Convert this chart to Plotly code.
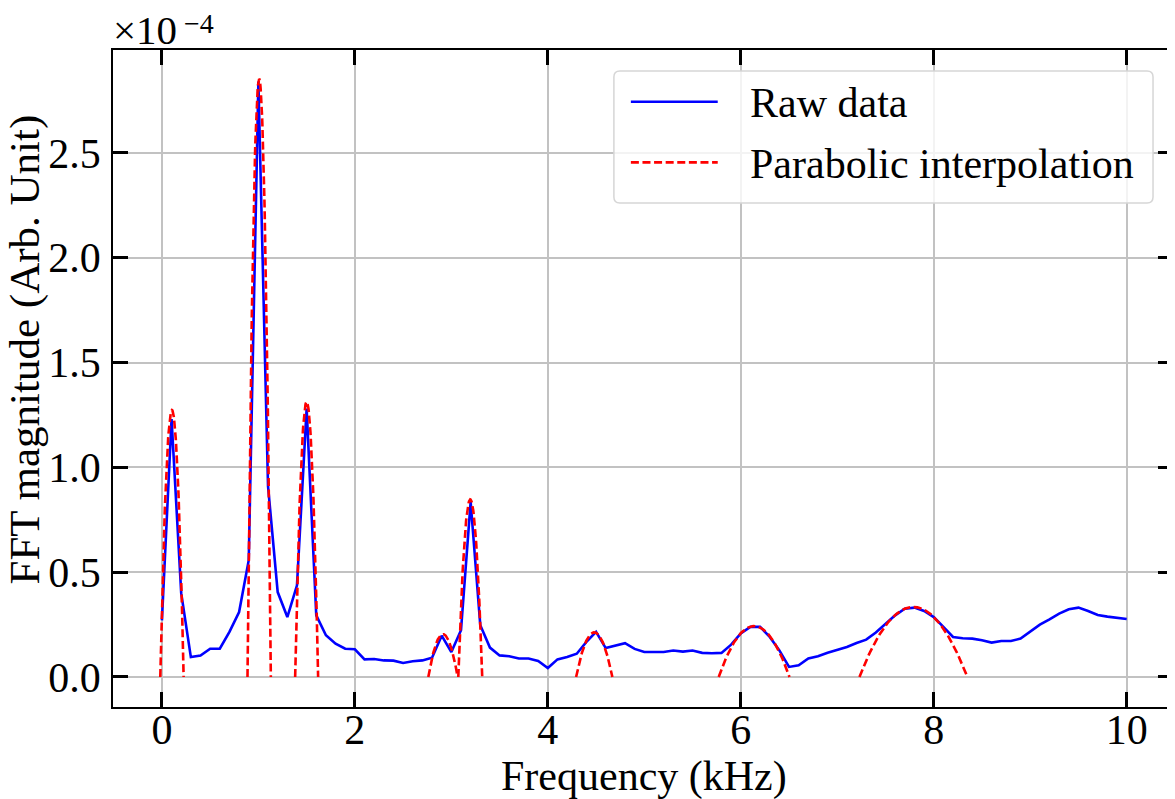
import plotly.graph_objects as go

# ---------------- data ----------------
FREQ_KHZ = [0.0, 0.1, 0.2, 0.3, 0.4, 0.5, 0.6, 0.7, 0.8, 0.9,
            1.0, 1.1, 1.2, 1.3, 1.4, 1.5, 1.6, 1.7, 1.8, 1.9,
            2.0, 2.1, 2.2, 2.3, 2.4, 2.5, 2.6, 2.7, 2.8, 2.9,
            3.0, 3.1, 3.2, 3.3, 3.4, 3.5, 3.6, 3.7, 3.8, 3.9,
            4.0, 4.1, 4.2, 4.3, 4.4, 4.5, 4.6, 4.7, 4.8, 4.9,
            5.0, 5.1, 5.2, 5.3, 5.4, 5.5, 5.6, 5.7, 5.8, 5.9,
            6.0, 6.1, 6.2, 6.3, 6.4, 6.5, 6.6, 6.7, 6.8, 6.9,
            7.0, 7.1, 7.2, 7.3, 7.4, 7.5, 7.6, 7.7, 7.8, 7.9,
            8.0, 8.1, 8.2, 8.3, 8.4, 8.5, 8.6, 8.7, 8.8, 8.9,
            9.0, 9.1, 9.2, 9.3, 9.4, 9.5, 9.6, 9.7, 9.8, 9.9,
            10.0]

# FFT magnitude in units of 1e-4
RAW_MAG_E4 = [0.270, 1.230, 0.400, 0.095, 0.102, 0.135, 0.135, 0.215, 0.310, 0.557,
              2.840, 0.910, 0.405, 0.286, 0.437, 1.280, 0.294, 0.199, 0.159, 0.135,
              0.132, 0.084, 0.086, 0.079, 0.078, 0.067, 0.075, 0.079, 0.092, 0.197,
              0.119, 0.223, 0.835, 0.247, 0.140, 0.103, 0.099, 0.088, 0.088, 0.076,
              0.043, 0.084, 0.095, 0.111, 0.167, 0.215, 0.138, 0.150, 0.161, 0.134,
              0.119, 0.119, 0.119, 0.126, 0.121, 0.126, 0.115, 0.113, 0.115, 0.154,
              0.208, 0.239, 0.239, 0.191, 0.127, 0.048, 0.056, 0.088, 0.099, 0.116,
              0.131, 0.143, 0.162, 0.178, 0.212, 0.255, 0.294, 0.326, 0.331, 0.315,
              0.286, 0.239, 0.191, 0.185, 0.183, 0.175, 0.164, 0.172, 0.172, 0.183,
              0.215, 0.250, 0.275, 0.302, 0.323, 0.331, 0.315, 0.296, 0.288, 0.283,
              0.277]

# parabolic fits: vertex position, vertex height (1e-4), half-width to the zero crossings
PARA_CENTER_KHZ = [0.104, 1.008, 1.500, 2.913, 3.196, 4.481, 6.138, 7.789]
PARA_PEAK_E4 = [1.273, 2.853, 1.313, 0.204, 0.847, 0.213, 0.243, 0.334]
PARA_HALFWIDTH_KHZ = [0.121, 0.121, 0.119, 0.152, 0.124, 0.188, 0.367, 0.559]

X_TICKS = [0, 2, 4, 6, 8, 10]
X_TICK_TEXT = ["0", "2", "4", "6", "8", "10"]
Y_TICKS = [0.0, 0.5, 1.0, 1.5, 2.0, 2.5]
Y_TICK_TEXT = ["0.0", "0.5", "1.0", "1.5", "2.0", "2.5"]

LEGEND_LABELS = ["Raw data", "Parabolic interpolation"]
X_TITLE = "Frequency (kHz)"
Y_TITLE = "FFT magnitude (Arb. Unit)"
OFFSET_BASE, OFFSET_EXP = "×10", "−4"

# ---------------- layout constants (page pixels; page body has an 8px margin) ----------------
OFF = 8
PAGE_W, PAGE_H = 1175, 799
W, H = PAGE_W - OFF, PAGE_H - OFF
PLOT_LEFT, PLOT_TOP, PLOT_BOTTOM, PLOT_RIGHT = 113.3, 50, 706.7, 1175
L, T = PLOT_LEFT - OFF, PLOT_TOP - OFF
R, B = PAGE_W - PLOT_RIGHT, PAGE_H - PLOT_BOTTOM
PW, PH = W - L - R, H - T - B
FONT = "Liberation Serif"


def px(xp):  # page x pixel -> paper fraction
    return (xp - OFF - L) / PW


def py(yp):  # page y pixel -> paper fraction
    return (H - B - (yp - OFF)) / PH


# parabola curve built from the read vertex / zero-crossing parameters
para_x, para_y = [], []
N = 80
for c, h, w in zip(PARA_CENTER_KHZ, PARA_PEAK_E4, PARA_HALFWIDTH_KHZ):
    for i in range(N + 1):
        x = c - w + 2 * w * i / N
        para_x.append(x)
        para_y.append(h * (1 - ((x - c) / w) ** 2))
    para_x.append(None)
    para_y.append(None)

fig = go.Figure()
fig.add_trace(go.Scatter(x=FREQ_KHZ, y=RAW_MAG_E4, mode="lines",
                         line=dict(color="#0000ff", width=2.6),
                         name=LEGEND_LABELS[0], showlegend=False))
fig.add_trace(go.Scatter(x=para_x, y=para_y, mode="lines",
                         line=dict(color="#ff0000", width=2.6, dash="8px,3.6px"),
                         name=LEGEND_LABELS[1], showlegend=False))

axis_common = dict(
    showline=True, linecolor="black", linewidth=1.6, mirror="ticks",
    ticks="inside", ticklen=15, tickwidth=3, tickcolor="black",
    showgrid=True, gridcolor="#c2c2c2", gridwidth=1.5,
    zeroline=False,
    tickfont=dict(family=FONT, size=42, color="black"),
)

fig.update_xaxes(range=[-0.507, 10.48], tickmode="array", tickvals=X_TICKS,
                 ticktext=X_TICK_TEXT, ticklabelstandoff=-15, **axis_common)
fig.update_yaxes(range=[-0.1432, 2.991], tickmode="array", tickvals=Y_TICKS,
                 ticktext=Y_TICK_TEXT, ticklabelstandoff=2, **axis_common)

# legend (matplotlib-style rounded frame)
lx0, lx1, ly0, ly1 = 615, 1155, 71, 203
rad = 6
X0, X1, Y0, Y1 = px(lx0), px(lx1), py(ly0), py(ly1)
rx, ry = rad / PW, rad / PH
path = (f"M {X0+rx},{Y0} L {X1-rx},{Y0} Q {X1},{Y0} {X1},{Y0-ry} "
        f"L {X1},{Y1+ry} Q {X1},{Y1} {X1-rx},{Y1} L {X0+rx},{Y1} "
        f"Q {X0},{Y1} {X0},{Y1+ry} L {X0},{Y0-ry} Q {X0},{Y0} {X0+rx},{Y0} Z")
shapes = [
    dict(type="path", path=path, xref="paper", yref="paper", layer="above",
         fillcolor="rgba(255,255,255,0.8)", line=dict(color="#d6d6d6", width=1.5)),
    dict(type="line", xref="paper", yref="paper", layer="above",
         x0=px(632), x1=px(719), y0=py(101.7), y1=py(101.7),
         line=dict(color="#0000ff", width=2.6)),
    dict(type="line", xref="paper", yref="paper", layer="above",
         x0=px(632), x1=px(719), y0=py(162.3), y1=py(162.3),
         line=dict(color="#ff0000", width=2.6, dash="8px,3.6px")),
]


def txt(text, x, y, size, xanchor="center", angle=0):
    return dict(text=text, xref="paper", yref="paper", x=px(x), y=py(y),
                xanchor=xanchor, yanchor="middle", textangle=angle, showarrow=False,
                borderpad=0, font=dict(family=FONT, size=size, color="black"))


annotations = [
    txt(LEGEND_LABELS[0], 750, 103.2, 42, "left"),
    txt(LEGEND_LABELS[1], 750, 164.2, 42, "left"),
    txt(X_TITLE, 645, 776, 42),
    txt(Y_TITLE, 25.5, 349, 43, angle=-90),
    txt(OFFSET_BASE, 112, 30, 41, "left"),
    txt(OFFSET_EXP, 183, 24, 28, "left"),
]

fig.update_layout(
    width=W, height=H,
    margin=dict(l=L, r=R, t=T, b=B, pad=0),
    paper_bgcolor="white", plot_bgcolor="white",
    showlegend=False,
    shapes=shapes, annotations=annotations,
)

fig.write_html("out.html")
